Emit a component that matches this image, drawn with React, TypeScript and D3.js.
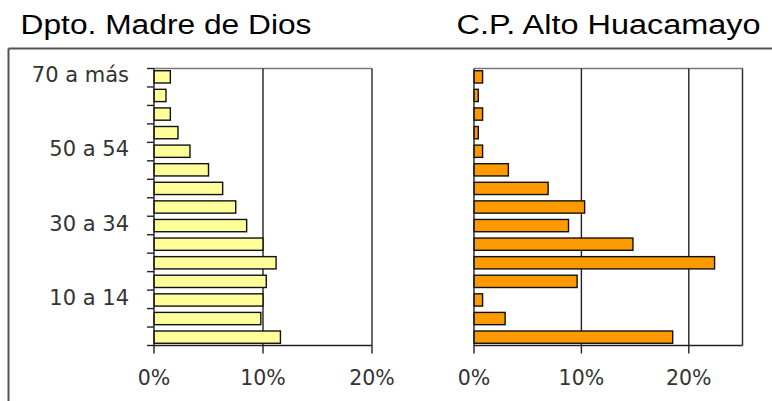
import * as d3 from 'd3';

// age groups, top to bottom as in the pyramid
const ageGroups = [
  '70 a más', '65 a 69', '60 a 64', '55 a 59', '50 a 54', '45 a 49', '40 a 44',
  '35 a 39', '30 a 34', '25 a 29', '20 a 24', '15 a 19', '10 a 14', '5 a 9', '0 a 4',
];
const labelledGroups = ['70 a más', '50 a 54', '30 a 34', '10 a 14'];

// percentages
const madreDeDios = [1.5, 1.1, 1.5, 2.2, 3.3, 5.0, 6.3, 7.5, 8.5, 10.0, 11.2, 10.3, 10.0, 9.8, 11.6];
const altoHuacamayo = [0.8, 0.4, 0.8, 0.4, 0.8, 3.2, 6.9, 10.3, 8.8, 14.8, 22.4, 9.6, 0.8, 2.9, 18.5];

const xTickValues = [0, 10, 20];

const WIDTH = 772;
const HEIGHT = 401;
const plotTop = 68.5;
const plotBottom = 345.5;

type PanelProps = {
  title: string;
  titleX: number;
  titleWidth: number;
  values: number[];
  fill: string;
  x0: number;
  x1: number;
  xMax: number;
  yAxis: boolean;
};

function Panel({ title, titleX, titleWidth, values, fill, x0, x1, xMax, yAxis }: PanelProps) {
  const x = d3.scaleLinear().domain([0, xMax]).range([x0, x1]);
  const y = d3
    .scaleBand<string>()
    .domain(ageGroups)
    .range([plotTop, plotBottom])
    .paddingInner(0.34)
    .paddingOuter(0.12);
  // boundaries between categories (where the tick marks sit)
  const step = (plotBottom - plotTop) / ageGroups.length;
  const boundaries = d3.range(ageGroups.length + 1).map((i) => plotTop + i * step);

  return (
    <g>
      <text
        x={titleX}
        y={34}
        fontFamily="'Liberation Sans', Arial, sans-serif"
        fontSize={27}
        textLength={titleWidth}
        lengthAdjust="spacingAndGlyphs"
        fill="#000"
      >
        {title}
      </text>

      {/* plot frame */}
      <line x1={x0} x2={x1} y1={plotTop} y2={plotTop} stroke="#777" strokeWidth={1.5} />
      <line x1={x1} x2={x1} y1={plotTop} y2={plotBottom} stroke="#333" strokeWidth={1.5} />

      {/* vertical gridlines */}
      {xTickValues
        .filter((t) => t > 0 && t < xMax)
        .map((t) => (
          <line key={t} x1={x(t)} x2={x(t)} y1={plotTop} y2={plotBottom} stroke="#222" strokeWidth={1.4} />
        ))}

      {/* bars */}
      {ageGroups.map((g, i) => (
        <rect
          key={g}
          x={x(0)}
          y={y(g)}
          width={x(values[i]) - x(0)}
          height={y.bandwidth()}
          fill={fill}
          stroke="#111"
          strokeWidth={1.4}
        />
      ))}

      {/* axes */}
      <line x1={x0} x2={x1} y1={plotBottom} y2={plotBottom} stroke="#222" strokeWidth={1.4} />
      <line x1={x0} x2={x0} y1={plotTop} y2={plotBottom} stroke="#222" strokeWidth={1.4} />

      {xTickValues.map((t) => (
        <g key={t}>
          <line x1={x(t)} x2={x(t)} y1={plotBottom} y2={plotBottom + 8} stroke="#222" strokeWidth={1.4} />
          <text
            x={x(t)}
            y={384.5}
            textAnchor="middle"
            fontFamily="'DejaVu Sans', Verdana, sans-serif"
            fontSize={20.5}
            fill="#333"
          >
            {t}%
          </text>
        </g>
      ))}

      {yAxis &&
        boundaries.map((b, i) => (
          <line key={i} x1={x0 - 7} x2={x0} y1={b} y2={b} stroke="#222" strokeWidth={1.4} />
        ))}
      {yAxis &&
        labelledGroups.map((g) => (
          <text
            key={g}
            x={x0 - 25}
            y={(y(g) ?? 0) + y.bandwidth() / 2 - 2}
            dominantBaseline="central"
            textAnchor="end"
            fontFamily="'DejaVu Sans', Verdana, sans-serif"
            fontSize={21}
            fill="#333"
          >
            {g}
          </text>
        ))}
    </g>
  );
}

export default function App() {
  return (
    <div style={{ position: 'absolute', left: 0, top: 0 }}>
      <svg width={WIDTH} height={HEIGHT} style={{ display: 'block', background: '#fff' }}>
        {/* outer frame */}
        <line x1={8.5} x2={WIDTH} y1={48.5} y2={48.5} stroke="#555" strokeWidth={2} />
        <line x1={8.5} x2={8.5} y1={48.5} y2={HEIGHT} stroke="#555" strokeWidth={2} />

        <Panel
          title="Dpto. Madre de Dios"
          titleX={20.5}
          titleWidth={291}
          values={madreDeDios}
          fill="#FFFF99"
          x0={154}
          x1={372}
          xMax={20}
          yAxis
        />
        <Panel
          title="C.P. Alto Huacamayo"
          titleX={456.5}
          titleWidth={304}
          values={altoHuacamayo}
          fill="#FF9900"
          x0={474}
          x1={742.5}
          xMax={25}
          yAxis={false}
        />
      </svg>
    </div>
  );
}
